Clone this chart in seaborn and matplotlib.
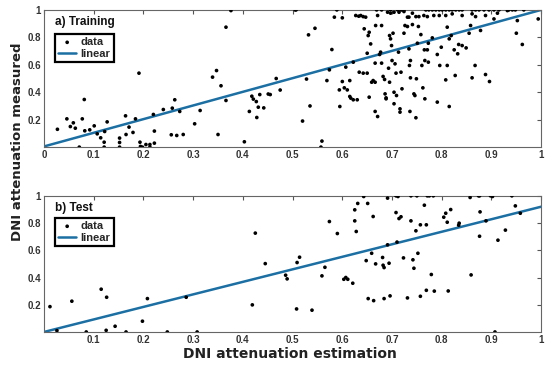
import numpy as np
import pandas as pd
import matplotlib
matplotlib.use("Agg")
import matplotlib.pyplot as plt
import seaborn as sns

# ---- training set (estimation, measured) ----
train_x = [0.027, 0.046, 0.053, 0.059, 0.063, 0.071, 0.077, 0.081, 0.082, 0.092, 0.101, 0.107,
           0.114, 0.121, 0.121, 0.122, 0.127, 0.152, 0.152, 0.152, 0.164, 0.165, 0.171, 0.179,
           0.184, 0.191, 0.193, 0.194, 0.198, 0.205, 0.213, 0.213, 0.220, 0.222, 0.222, 0.240,
           0.256, 0.258, 0.263, 0.267, 0.273, 0.280, 0.303, 0.314, 0.339, 0.347, 0.350, 0.356,
           0.366, 0.366, 0.376, 0.403, 0.413, 0.418, 0.421, 0.427, 0.428, 0.431, 0.434, 0.442,
           0.451, 0.455, 0.467, 0.475, 0.505, 0.520, 0.528, 0.532, 0.535, 0.545,
           0.557, 0.559, 0.569, 0.574, 0.579, 0.594, 0.595, 0.600, 0.604, 0.607, 0.610, 0.615,
           0.615, 0.617, 0.622, 0.622, 0.630, 0.634, 0.642, 0.644, 0.650, 0.650, 0.652, 0.654,
           0.657, 0.654, 0.659, 0.662, 0.666, 0.666, 0.667, 0.666, 0.671, 0.675, 0.677, 0.679,
           0.679, 0.682, 0.685, 0.686, 0.688, 0.688, 0.693, 0.695, 0.695, 0.697, 0.699, 0.700,
           0.702, 0.704, 0.704, 0.706, 0.708, 0.709, 0.713, 0.716, 0.716, 0.718, 0.720, 0.724,
           0.726, 0.731, 0.734, 0.735, 0.737, 0.737, 0.736, 0.741, 0.744, 0.746, 0.748, 0.749,
           0.751, 0.753, 0.758, 0.760, 0.762, 0.765, 0.766, 0.766, 0.771, 0.773, 0.773, 0.781,
           0.791, 0.791, 0.796, 0.799, 0.808, 0.811, 0.811, 0.815, 0.815, 0.819, 0.825, 0.827,
           0.832, 0.834, 0.841, 0.849, 0.855, 0.858, 0.861, 0.867, 0.878, 0.888, 0.896, 0.950,
           0.952, 0.962,
           0.507, 0.589, 0.669, 0.679, 0.697, 0.711, 0.718, 0.721, 0.724, 0.768, 0.774, 0.781,
           0.788, 0.795, 0.801, 0.808, 0.815, 0.821, 0.828, 0.835, 0.841, 0.861, 0.868, 0.875,
           0.885, 0.895, 0.905, 0.915, 0.935, 0.942, 0.948, 0.965,
           0.584, 0.600, 0.627, 0.633, 0.637, 0.642, 0.647, 0.671, 0.691, 0.697, 0.704, 0.714,
           0.724, 0.731, 0.734, 0.741, 0.748, 0.754, 0.764, 0.771, 0.784, 0.795, 0.808, 0.821,
           0.841, 0.861, 0.868, 0.888, 0.905, 0.912, 0.932, 0.994]
train_y = [0.130, 0.206, 0.150, 0.177, 0.138, 0.000, 0.206, 0.347, 0.119, 0.126, 0.155, 0.097,
           0.068, 0.036, 0.000, 0.114, 0.184, 0.066, 0.034, 0.000, 0.228, 0.092, 0.146, 0.107,
           0.206, 0.539, 0.036, 0.005, 0.000, 0.019, 0.019, 0.000, 0.238, 0.117, 0.029, 0.274,
           0.090, 0.284, 0.345, 0.085, 0.260, 0.092, 0.170, 0.267, 0.510, 0.558, 0.092, 0.447,
           0.874, 0.340, 0.995, 0.039, 0.260, 0.371, 0.350, 0.332, 0.216, 0.291, 0.383, 0.286,
           0.387, 0.383, 0.500, 0.416, 1.000, 0.190, 0.496, 0.818, 0.300, 0.866,
           0.000, 0.044, 0.485, 0.563, 0.711, 0.417, 0.296, 0.478, 0.432, 0.583, 0.417, 0.485,
           0.369, 0.357, 0.345, 0.619, 0.345, 0.546, 0.539, 0.862, 0.539, 0.684, 0.813, 0.837,
           0.752, 0.364, 0.473, 0.485, 0.473, 0.612, 0.886, 0.260, 0.223, 0.675, 0.692, 0.886,
           0.612, 0.515, 0.493, 0.388, 0.359, 0.352, 0.575, 0.473, 0.813, 0.789, 0.740, 0.631,
           0.830, 0.400, 0.316, 0.607, 0.539, 0.376, 0.692, 0.279, 0.255, 0.546, 0.425, 0.830,
           0.886, 0.879, 0.716, 0.595, 0.631, 0.505, 0.260, 0.893, 0.388, 0.376, 0.214, 0.498,
           0.757, 0.879, 0.820, 0.595, 0.432, 0.709, 0.631, 0.352, 0.709, 0.619, 0.757, 0.796,
           0.328, 0.675, 0.595, 0.728, 0.490, 0.595, 0.874, 0.789, 0.296, 0.813, 0.709, 0.522,
           0.680, 0.748, 0.740, 0.723, 0.830, 0.886, 0.505, 0.595, 0.850, 0.529, 0.478, 0.830,
           0.922, 0.748,
           1.0, 1.0, 1.0, 1.0, 1.0, 1.0, 1.0, 1.0, 1.0, 1.0, 1.0, 1.0,
           1.0, 1.0, 1.0, 1.0, 1.0, 1.0, 1.0, 1.0, 1.0, 1.0, 1.0, 1.0,
           1.0, 1.0, 1.0, 1.0, 1.0, 1.0, 1.0, 1.0,
           0.947, 0.942, 0.959, 0.954, 0.959, 0.951, 0.947, 0.959, 0.983, 0.976, 0.983, 0.983,
           0.988, 0.947, 0.947, 0.976, 0.951, 0.951, 0.959, 0.951, 0.959, 0.959, 0.959, 0.971,
           0.959, 0.971, 0.951, 0.959, 0.934, 0.976, 0.995, 0.934]

# ---- test set ----
test_x = [0.012, 0.026, 0.056, 0.085, 0.115, 0.126, 0.125, 0.143, 0.165, 0.198, 0.208, 0.248,
          0.286, 0.308, 0.419, 0.425, 0.445, 0.486, 0.489, 0.508, 0.509, 0.514, 0.539, 0.559,
          0.565, 0.574, 0.590, 0.603, 0.607, 0.611, 0.621, 0.625, 0.625, 0.628, 0.631, 0.643,
          0.648, 0.651, 0.652, 0.659, 0.662, 0.663, 0.667, 0.681, 0.682, 0.684, 0.684, 0.691,
          0.691, 0.694, 0.696, 0.708, 0.708, 0.712, 0.710, 0.714, 0.718, 0.723, 0.731, 0.738,
          0.738, 0.742, 0.744, 0.748, 0.750, 0.752, 0.757, 0.757, 0.765, 0.769, 0.769, 0.771,
          0.775, 0.779, 0.783, 0.785, 0.804, 0.808, 0.811, 0.813, 0.818, 0.834, 0.835, 0.857,
          0.859, 0.874, 0.876, 0.876, 0.877, 0.889, 0.898, 0.902, 0.907, 0.913, 0.928, 0.941,
          0.948, 0.958]
test_y = [0.186, 0.010, 0.226, 0.000, 0.314, 0.255, 0.012, 0.042, 0.000, 0.079, 0.245, 0.000,
          0.255, 0.000, 0.199, 0.726, 0.502, 0.417, 0.390, 0.169, 0.510, 0.549, 0.160, 0.412,
          0.475, 0.811, 0.723, 0.387, 0.400, 0.387, 0.358, 0.816, 0.897, 0.738, 0.944, 0.995,
          0.524, 0.944, 0.245, 0.578, 0.848, 0.230, 0.500, 0.547, 0.490, 0.473, 0.245, 0.983,
          0.640, 0.505, 0.265, 0.877, 1.000, 0.995, 0.660, 0.833, 0.846, 0.544, 0.250, 0.816,
          1.000, 0.530, 0.468, 0.743, 1.000, 0.578, 0.787, 0.262, 0.931, 0.787, 0.306, 1.000,
          1.000, 0.422, 1.000, 0.300, 0.843, 0.872, 0.806, 0.301, 0.899, 0.784, 0.799, 0.988,
          0.419, 1.000, 1.000, 0.703, 0.882, 0.816, 1.000, 0.995, 0.000, 0.674, 0.748, 1.000,
          0.926, 0.872]

# linear fit end points
fit_x = [0.0, 1.0]
train_fit_y = [0.005, 1.0]
test_fit_y = [0.0, 0.92]

train_ticks_x = [0, 0.1, 0.2, 0.3, 0.4, 0.5, 0.6, 0.7, 0.8, 0.9, 1]
train_labels_x = ["0", "0.1", "0.2", "0.3", "0.4", "0.5", "0.6", "0.7", "0.8", "0.9", "1"]
test_ticks_x = [0.1, 0.2, 0.3, 0.4, 0.5, 0.6, 0.7, 0.8, 0.9, 1]
test_labels_x = ["0.1", "0.2", "0.3", "0.4", "0.5", "0.6", "0.7", "0.8", "0.9", "1"]
ticks_y = [0.2, 0.4, 0.6, 0.8, 1]
labels_y = ["0.2", "0.4", "0.6", "0.8", "1"]

sns.set_theme(style="white")
plt.rcParams["font.family"] = ["Liberation Sans", "DejaVu Sans"]

df_train = pd.DataFrame({"est": train_x, "meas": train_y})
df_test = pd.DataFrame({"est": test_x, "meas": test_y})

fig = plt.figure(figsize=(5.5, 3.66), dpi=100)
ax1 = fig.add_axes([0.080, 0.598, 0.904, 0.375])
ax2 = fig.add_axes([0.080, 0.093, 0.904, 0.372])

line_col = "#1b6fa3"

panels = [
    (ax1, df_train, train_fit_y, "a)", "Training", train_ticks_x, train_labels_x, 0.825),
    (ax2, df_test, test_fit_y, "b)", "Test", test_ticks_x, test_labels_x, 0.838),
]

for ax, df, fy, tag, name, tx, tl, leg_top in panels:
    sns.scatterplot(data=df, x="est", y="meas", ax=ax, s=7, color="black",
                    edgecolor="none", label="data", zorder=3)
    sns.lineplot(x=fit_x, y=fy, ax=ax, color=line_col, lw=1.8, label="linear", zorder=2)
    ax.set_xlim(0, 1)
    ax.set_ylim(0, 1)
    ax.set_xticks(tx)
    ax.set_xticklabels(tl)
    ax.set_yticks(ticks_y)
    ax.set_yticklabels(labels_y)
    ax.set_xlabel("")
    ax.set_ylabel("")
    ax.tick_params(direction="in", top=True, right=True, length=3, width=0.8,
                   color="#555555", labelsize=7, labelcolor="#333333", pad=2)
    for lab in ax.get_xticklabels() + ax.get_yticklabels():
        lab.set_fontweight("bold")
    for sp in ax.spines.values():
        sp.set_color("#666666")
        sp.set_linewidth(0.8)
    ax.text(0.022, 0.91, f"{tag} {name}", transform=ax.transAxes, fontsize=8.5,
            fontweight="bold", va="center", ha="left", color="#111111")
    leg = ax.legend(loc="upper left", bbox_to_anchor=(0.022, leg_top), fancybox=False,
                    frameon=True, borderpad=0.3, handlelength=1.6, handletextpad=0.4,
                    labelspacing=0.15, borderaxespad=0,
                    prop={"weight": "bold", "size": 8})
    leg.get_frame().set_edgecolor("black")
    leg.get_frame().set_linewidth(1.6)
    leg.get_frame().set_alpha(1)

# axis titles: wider bold face to approach the spaced-out lettering of the original
fig.text(0.031, 0.612, "DNI attenuation measured", rotation=90, fontsize=9.5,
         fontweight="bold", family="DejaVu Sans", ha="center", va="center", color="#222222")
fig.text(0.527, 0.033, "DNI attenuation estimation", fontsize=10,
         fontweight="bold", family="DejaVu Sans", ha="center", va="center", color="#222222")

fig.savefig("out.png", dpi=100)
